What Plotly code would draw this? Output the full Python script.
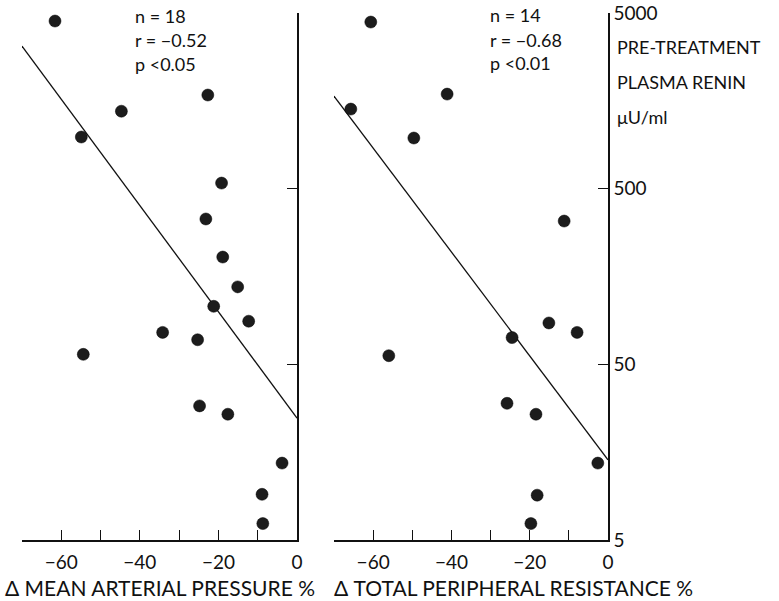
import plotly.graph_objects as go
import math

# Left panel: change in mean arterial pressure (%) vs pre-treatment plasma renin
map_change = [-61.6, -54.9, -44.7, -22.7, -19.2, -23.2, -18.9, -15.1, -21.2,
              -12.3, -34.2, -25.3, -54.4, -24.8, -17.6, -3.8, -8.9, -8.7]
map_renin = [4500, 984, 1380, 1706, 538, 336, 204, 138, 107,
             88, 76, 69, 57, 29, 26, 13.7, 9.1, 6.2]
map_fit_x = [-70, 0]
map_fit_y = [3240, 24.7]

# Right panel: change in total peripheral resistance (%) vs renin
tpr_change = [-60.6, -65.7, -41.1, -49.6, -11.2, -15.1, -7.9, -24.5, -56.0,
              -25.8, -18.4, -2.6, -18.1, -19.7]
tpr_renin = [4440, 1419, 1727, 971, 327, 86, 76, 71, 56,
             30, 26, 13.7, 9.0, 6.2]
tpr_fit_x = [-70, 0]
tpr_fit_y = [1683, 14.3]

x_tickvals = [-70, -60, -50, -40, -30, -20, -10, 0]
x_ticktext = ["", "−60", "", "−40", "", "−20", "", "0"]
y_tickvals = [5, 50, 500, 5000]
y_ticktext = ["5", "50", "500", "5000"]

FONT = "Lato"
W, H = 779, 601
ML, MR, MT, MB = 22, 171, 13, 61
PW = W - ML - MR
PH = H - MT - MB


def px_x(p):
    return (p - ML) / PW


def px_y(p):
    return (H - MB - p) / PH


fig = go.Figure()

marker = dict(color="#1c1c1c", size=12, line=dict(color="#000", width=0.5))
line = dict(color="#111", width=1.3)

fig.add_trace(go.Scatter(x=map_fit_x, y=map_fit_y, mode="lines", line=line,
                         xaxis="x", yaxis="y2", showlegend=False, cliponaxis=False))
fig.add_trace(go.Scatter(x=map_change, y=map_renin, mode="markers", marker=marker,
                         xaxis="x", yaxis="y2", showlegend=False, cliponaxis=False))
fig.add_trace(go.Scatter(x=tpr_fit_x, y=tpr_fit_y, mode="lines", line=line,
                         xaxis="x2", yaxis="y", showlegend=False, cliponaxis=False))
fig.add_trace(go.Scatter(x=tpr_change, y=tpr_renin, mode="markers", marker=marker,
                         xaxis="x2", yaxis="y", showlegend=False, cliponaxis=False))

yr = [math.log10(5), math.log10(5000)]
xcommon = dict(range=[-70, 0], showline=True, linecolor="#111", linewidth=1.5,
               ticks="inside", ticklen=10, tickwidth=1.3, tickcolor="#111",
               tickvals=x_tickvals, ticktext=x_ticktext, showgrid=False,
               zeroline=False, automargin=False, ticklabelstandoff=4,
               tickfont=dict(family=FONT, size=19, color="#111"))
left_end = px_x(297)
right_start = px_x(334)
fig.update_layout(
    width=W, height=H, autosize=False,
    margin=dict(l=ML, r=MR, t=MT, b=MB, pad=0, autoexpand=False),
    plot_bgcolor="white", paper_bgcolor="white",
    xaxis=dict(domain=[0, left_end], anchor="y2", **xcommon),
    xaxis2=dict(domain=[right_start, 1], anchor="y", **xcommon),
    yaxis=dict(type="log", range=yr, anchor="x2", side="right", showline=True,
               linecolor="#111", linewidth=1.5, ticks="inside", ticklen=10,
               tickwidth=1.3, tickcolor="#111", tickvals=y_tickvals,
               ticktext=y_ticktext, showgrid=False, zeroline=False,
               automargin=False,
               tickfont=dict(family=FONT, size=19, color="#111")),
    yaxis2=dict(type="log", range=yr, anchor="x", side="right", showline=True,
                linecolor="#111", linewidth=1.5, ticks="inside", ticklen=10,
                tickwidth=1.3, tickcolor="#111", tickvals=[50, 500, 5000],
                showticklabels=False, showgrid=False, zeroline=False,
                automargin=False),
)


def add_text(text, px, py, xanchor="left", size=18):
    fig.add_annotation(text=text, x=px_x(px), y=px_y(py), xref="paper", yref="paper",
                       showarrow=False, xanchor=xanchor, yanchor="middle",
                       font=dict(family=FONT, size=size, color="#111"))


add_text("n = 18", 133, 16)
add_text("r = −0.52", 133, 40)
add_text("p <0.05", 133, 64)
add_text("n = 14", 488, 15)
add_text("r = −0.68", 488, 40)
add_text("p <0.01", 488, 63)
add_text("PRE-TREATMENT", 615, 47)
add_text("PLASMA RENIN", 615, 82)
add_text("μU/ml", 615, 117)
add_text("Δ MEAN ARTERIAL PRESSURE %", 160, 587, "center", 21)
add_text("Δ TOTAL PERIPHERAL RESISTANCE %", 513, 587, "center", 21)

fig.write_html("out.html")
